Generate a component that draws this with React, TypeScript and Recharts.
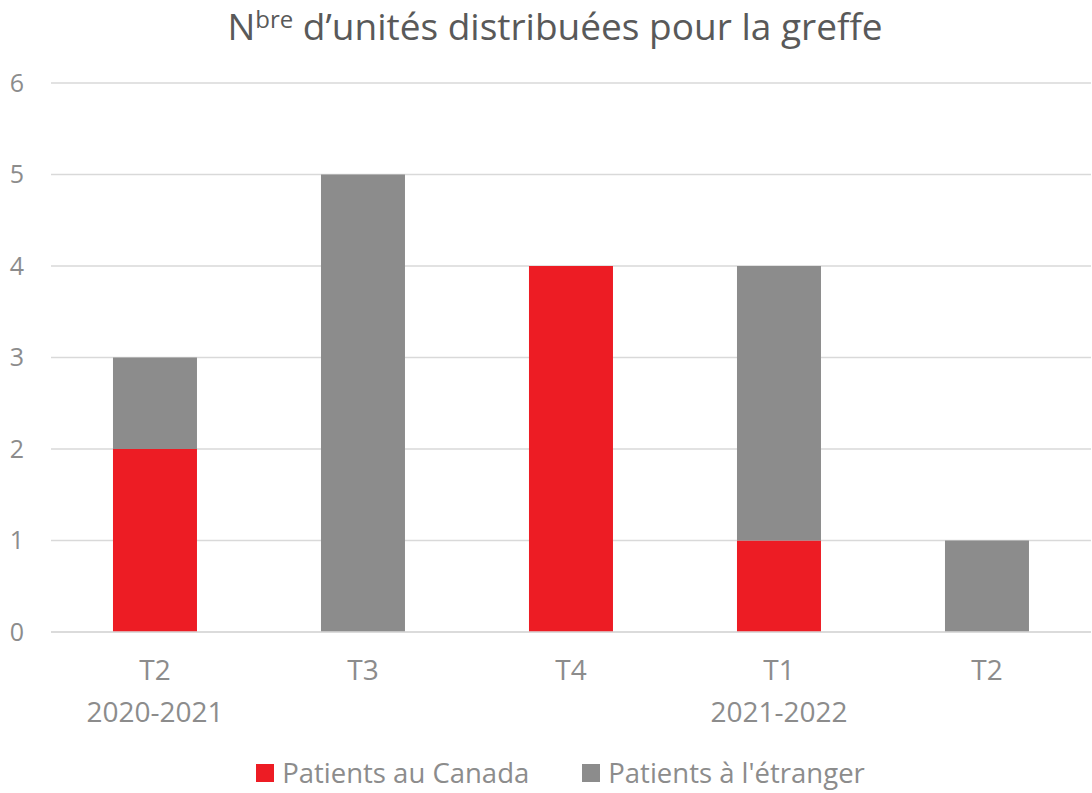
import { BarChart, Bar, XAxis, YAxis, CartesianGrid, Legend } from 'recharts';

const quarters = ['T2', 'T3', 'T4', 'T1', 'T2'];
const fiscalYears = ['2020-2021', '', '', '2021-2022', ''];
const canada = [2, 0, 4, 1, 0];
const abroad = [1, 5, 0, 3, 1];
const yTicks = [0, 1, 2, 3, 4, 5, 6];

const data = quarters.map((q, i) => ({
  key: `${q}-${i}`,
  quarter: q,
  year: fiscalYears[i],
  canada: canada[i],
  abroad: abroad[i],
}));

const FONT = '"Open Sans", sans-serif';
const TEXT = '#8c8c8c';

function QuarterTick({ x, y, payload }: any) {
  const row = data[payload.index];
  return (
    <g>
      <text x={x} y={y + 40} textAnchor="middle" fill={TEXT} fontSize={28} fontFamily={FONT}>
        {row.quarter}
      </text>
      {row.year && (
        <text x={x} y={y + 82} textAnchor="middle" fill={TEXT} fontSize={28} fontFamily={FONT}>
          {row.year}
        </text>
      )}
    </g>
  );
}

function LegendContent() {
  const items = [
    { label: 'Patients au Canada', color: '#ed1c24' },
    { label: "Patients à l'étranger", color: '#8c8c8c' },
  ];
  return (
    <div style={{ display: 'flex', justifyContent: 'center', gap: 53, fontFamily: FONT, marginLeft: 30 }}>
      {items.map((it) => (
        <div key={it.label} style={{ display: 'flex', alignItems: 'center' }}>
          <span style={{ width: 18, height: 18, background: it.color, display: 'inline-block', marginRight: 8 }} />
          <span style={{ color: TEXT, fontSize: 27.5 }}>{it.label}</span>
        </div>
      ))}
    </div>
  );
}

export default function App() {
  return (
    <div style={{ position: 'absolute', left: 0, top: 0, width: 1092, height: 793, background: '#fff', fontFamily: FONT }}>
      <div
        style={{
          position: 'absolute',
          top: 0,
          left: 0,
          width: 1110,
          textAlign: 'center',
          color: '#595959',
          fontSize: 37,
          whiteSpace: 'nowrap',
        }}
      >
        N<sup style={{ fontSize: 24, verticalAlign: 'top', position: 'relative', top: 2 }}>bre</sup> d’unités distribuées pour la greffe
      </div>
      <BarChart
        width={1092}
        height={793}
        data={data}
        margin={{ top: 83, right: 1, left: 0, bottom: 0 }}
        barCategoryGap="29.8%"
      >
        <CartesianGrid vertical={false} stroke="#d9d9d9" strokeWidth={1.5} />
        <XAxis
          dataKey="key"
          height={124}
          axisLine={{ stroke: '#d9d9d9', strokeWidth: 1.5 }}
          tickLine={false}
          tick={<QuarterTick />}
          interval={0}
        />
        <YAxis
          width={51}
          domain={[0, 6]}
          ticks={yTicks}
          axisLine={false}
          tickLine={false}
          tick={{ fill: TEXT, fontSize: 25, fontFamily: FONT, textAnchor: 'middle', dx: -26 }}
        />
        <Legend verticalAlign="bottom" content={<LegendContent />} wrapperStyle={{ bottom: 2 }} />
        <Bar dataKey="canada" stackId="a" fill="#ed1c24" isAnimationActive={false} />
        <Bar dataKey="abroad" stackId="a" fill="#8c8c8c" isAnimationActive={false} />
      </BarChart>
    </div>
  );
}
